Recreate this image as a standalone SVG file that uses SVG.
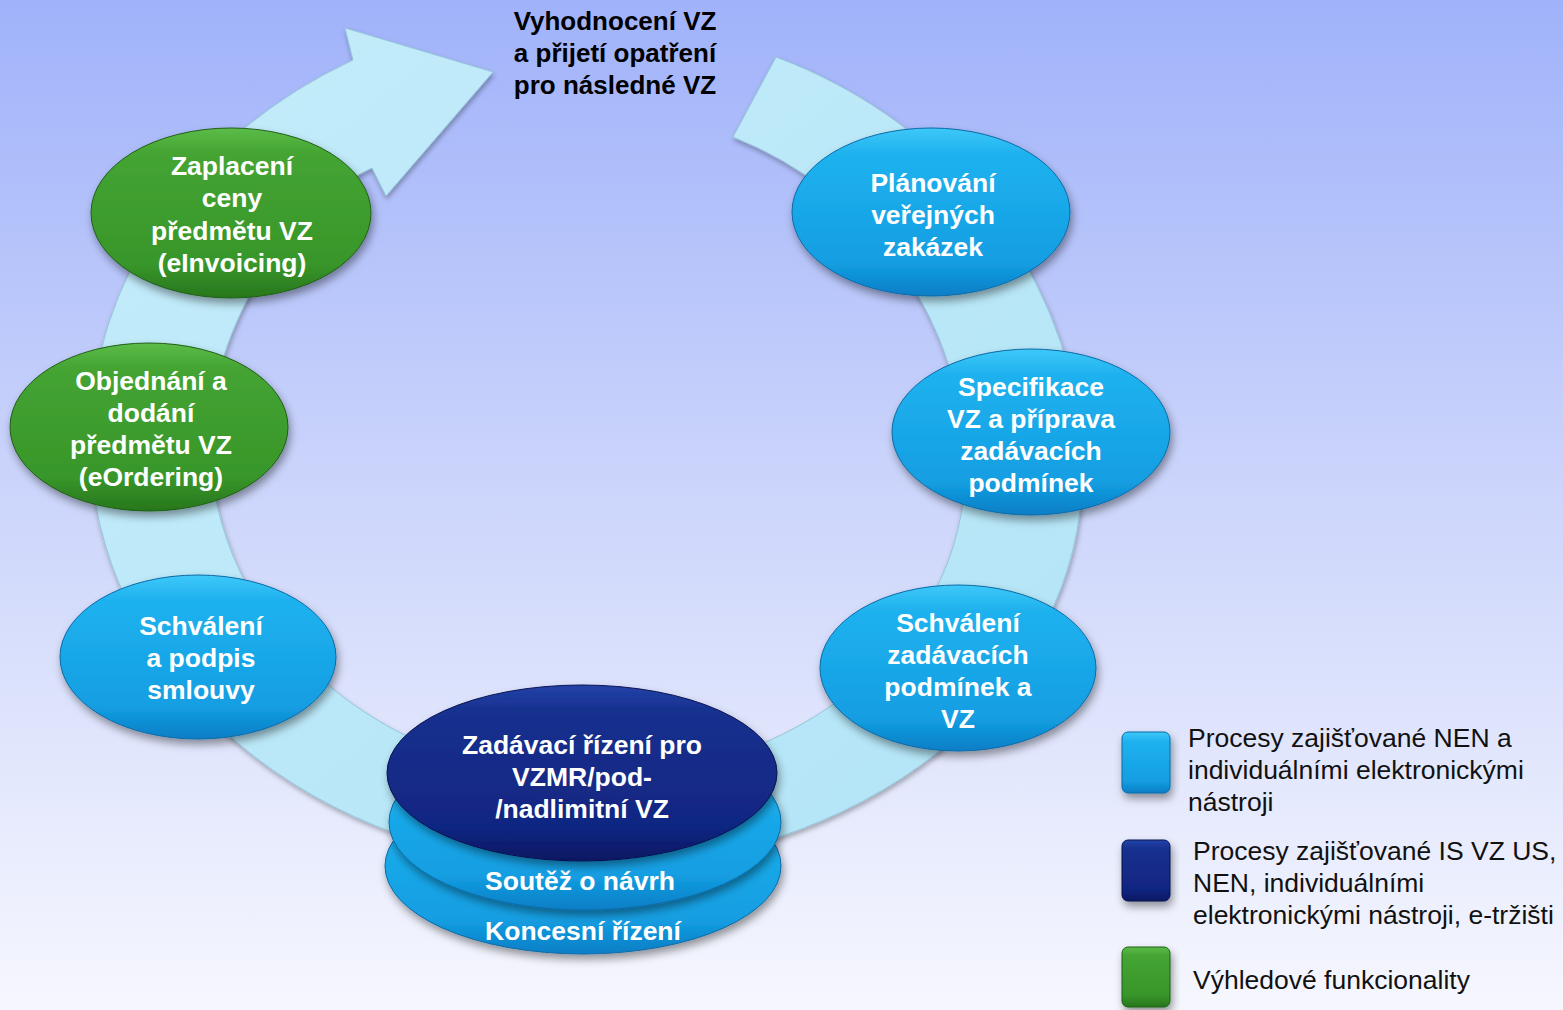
<svg xmlns="http://www.w3.org/2000/svg" width="1563" height="1010" viewBox="0 0 1563 1010">
<defs>
<linearGradient id="bg" x1="0" y1="0" x2="0" y2="1">
<stop offset="0" stop-color="#a0b2fa"/>
<stop offset="0.5" stop-color="#cdd6fb"/>
<stop offset="1" stop-color="#f6f7fe"/>
</linearGradient>
<linearGradient id="gCyan" x1="0" y1="0" x2="0" y2="1">
<stop offset="0" stop-color="#3ec8f8"/>
<stop offset="0.15" stop-color="#1fb2ef"/>
<stop offset="0.8" stop-color="#139ee2"/>
<stop offset="1" stop-color="#0b7ec6"/>
</linearGradient>
<linearGradient id="gGreen" x1="0" y1="0" x2="0" y2="1">
<stop offset="0" stop-color="#5cbc48"/>
<stop offset="0.15" stop-color="#44a432"/>
<stop offset="0.8" stop-color="#38962a"/>
<stop offset="1" stop-color="#27761c"/>
</linearGradient>
<linearGradient id="gNavy" x1="0" y1="0" x2="0" y2="1">
<stop offset="0" stop-color="#2342a8"/>
<stop offset="0.15" stop-color="#16308e"/>
<stop offset="0.8" stop-color="#112682"/>
<stop offset="1" stop-color="#0a1862"/>
</linearGradient>
<linearGradient id="gBand" x1="0" y1="0" x2="1" y2="1">
<stop offset="0" stop-color="#c4ecfa"/>
<stop offset="1" stop-color="#b2e4f6"/>
</linearGradient>
<filter id="sh" x="-20%" y="-20%" width="140%" height="150%">
<feDropShadow dx="2" dy="5" stdDeviation="4" flood-color="#000" flood-opacity="0.4"/>
</filter>
<filter id="shBand" x="-10%" y="-10%" width="120%" height="120%">
<feDropShadow dx="1" dy="3" stdDeviation="2.5" flood-color="#000" flood-opacity="0.3"/>
</filter>
<style>
.lbl{font-family:"Liberation Sans",Arial,sans-serif;font-weight:bold;font-size:26.5px;fill:#fff;text-anchor:middle}
.ttl{font-family:"Liberation Sans",Arial,sans-serif;font-weight:bold;font-size:26px;fill:#000;text-anchor:middle}
.leg{font-family:"Liberation Sans",Arial,sans-serif;font-size:26.5px;fill:#111}
.cyan{fill:url(#gCyan);stroke:#0a6aa6;stroke-width:1;filter:url(#sh)}
.green{fill:url(#gGreen);stroke:#1f5e15;stroke-width:1;filter:url(#sh)}
.navy{fill:url(#gNavy);stroke:#071250;stroke-width:1;filter:url(#sh)}
</style>
</defs>
<rect x="0" y="0" width="1563" height="1010" fill="url(#bg)"/>

<g id="connectors">
<path d="M 776,57 A 492 450 0 0 1 1082,475 A 492 392 0 0 1 590,867 A 500 427 0 0 1 90,440 A 500 432 0 0 1 353,60 L 345,28 L 493,72 L 386,196 L 372,168 C 290,205 210,330 210,440 A 380 338 0 0 0 590,778 A 375 308 0 0 0 965,470 A 375 360 0 0 0 733,137 Z" fill="url(#gBand)" stroke="#95c6da" stroke-width="1" filter="url(#shBand)"/>
</g>

<g id="title">
<text class="ttl" x="615" y="30">Vyhodnocení VZ</text>
<text class="ttl" x="615" y="62">a přijetí opatření</text>
<text class="ttl" x="615" y="94">pro následné VZ</text>
</g>

<g id="node-planovani">
<ellipse class="cyan" cx="931" cy="212" rx="139" ry="84"/>
<text class="lbl" x="933" y="192">Plánování</text>
<text class="lbl" x="933" y="224">veřejných</text>
<text class="lbl" x="933" y="256">zakázek</text>
</g>

<g id="node-specifikace">
<ellipse class="cyan" cx="1031" cy="432" rx="139" ry="83"/>
<text class="lbl" x="1031" y="396">Specifikace</text>
<text class="lbl" x="1031" y="428">VZ a příprava</text>
<text class="lbl" x="1031" y="460">zadávacích</text>
<text class="lbl" x="1031" y="492">podmínek</text>
</g>

<g id="node-schvaleni-zp">
<ellipse class="cyan" cx="958" cy="668" rx="138" ry="83"/>
<text class="lbl" x="958" y="632">Schválení</text>
<text class="lbl" x="958" y="664">zadávacích</text>
<text class="lbl" x="958" y="696">podmínek a</text>
<text class="lbl" x="958" y="728">VZ</text>
</g>

<g id="node-koncesni">
<ellipse class="cyan" cx="583" cy="866" rx="198" ry="88"/>
<text class="lbl" x="583" y="940">Koncesní řízení</text>
</g>

<g id="node-soutez">
<ellipse class="cyan" cx="585" cy="822" rx="196" ry="88"/>
<text class="lbl" x="580" y="890">Soutěž o návrh</text>
</g>

<g id="node-zadavaci">
<ellipse class="navy" cx="582" cy="773" rx="195" ry="88"/>
<text class="lbl" x="582" y="754">Zadávací řízení pro</text>
<text class="lbl" x="582" y="786">VZMR/pod-</text>
<text class="lbl" x="582" y="818">/nadlimitní VZ</text>
</g>

<g id="node-schvaleni-smlouvy">
<ellipse class="cyan" cx="198" cy="657" rx="138" ry="82"/>
<text class="lbl" x="201" y="635">Schválení</text>
<text class="lbl" x="201" y="667">a podpis</text>
<text class="lbl" x="201" y="699">smlouvy</text>
</g>

<g id="node-objednani">
<ellipse class="green" cx="149" cy="427" rx="139" ry="84"/>
<text class="lbl" x="151" y="390">Objednání a</text>
<text class="lbl" x="151" y="422">dodání</text>
<text class="lbl" x="151" y="454">předmětu VZ</text>
<text class="lbl" x="151" y="486">(eOrdering)</text>
</g>

<g id="node-zaplaceni">
<ellipse class="green" cx="231" cy="213" rx="140" ry="85"/>
<text class="lbl" x="232" y="175">Zaplacení</text>
<text class="lbl" x="232" y="207">ceny</text>
<text class="lbl" x="232" y="240">předmětu VZ</text>
<text class="lbl" x="232" y="272">(eInvoicing)</text>
</g>

<g id="legend">
<rect class="cyan" x="1122" y="732" width="48" height="61" rx="6"/>
<text class="leg" x="1188" y="747">Procesy zajišťované NEN a</text>
<text class="leg" x="1188" y="779">individuálními elektronickými</text>
<text class="leg" x="1188" y="811">nástroji</text>
<rect class="navy" x="1122" y="840" width="48" height="61" rx="6"/>
<text class="leg" x="1193" y="860">Procesy zajišťované IS VZ US,</text>
<text class="leg" x="1193" y="892">NEN, individuálními</text>
<text class="leg" x="1193" y="924">elektronickými nástroji, e-tržišti</text>
<rect class="green" x="1122" y="947" width="48" height="60" rx="6"/>
<text class="leg" x="1193" y="989">Výhledové funkcionality</text>
</g>
</svg>
